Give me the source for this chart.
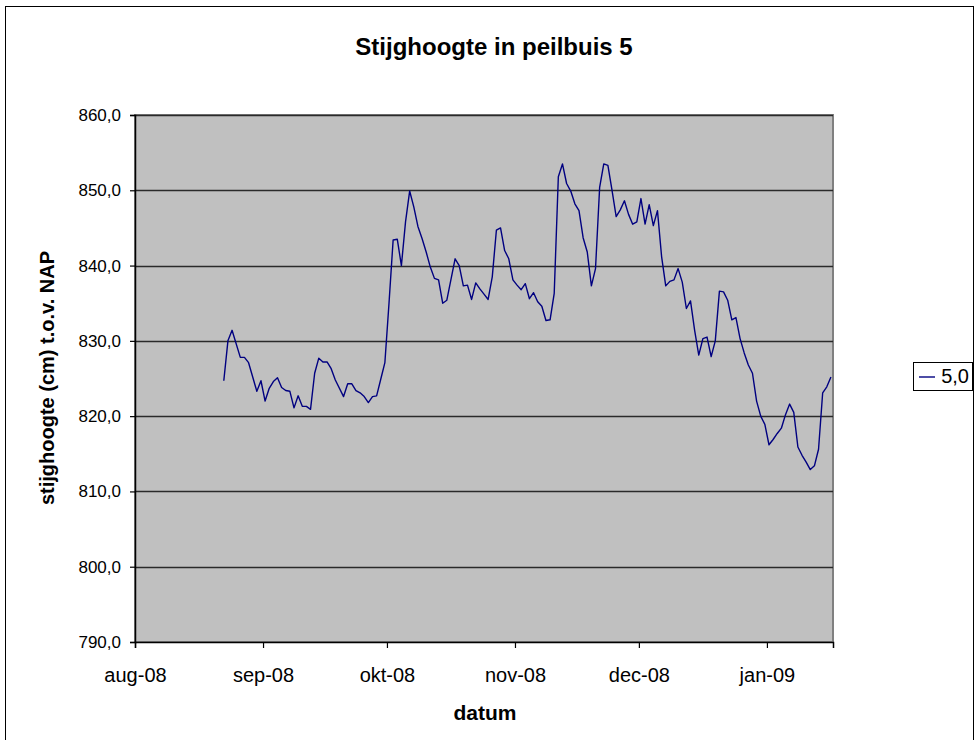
<!DOCTYPE html>
<html>
<head>
<meta charset="utf-8">
<script src="https://cdn.jsdelivr.net/npm/d3@7"></script>
<style>
  body { margin: 0; background: #fff; }
  svg { display: block; font-family: Arial, "Liberation Sans", sans-serif; }
</style>
</head>
<body>
<div></div>
<script>
// measured dates (daily, a few days missing) and level in cm above NAP
var dates = [
  "2008-08-22","2008-08-23","2008-08-24","2008-08-26","2008-08-27","2008-08-28","2008-08-29","2008-08-30","2008-08-31",
  "2008-09-01","2008-09-02","2008-09-03","2008-09-04","2008-09-05","2008-09-06","2008-09-07","2008-09-08","2008-09-09",
  "2008-09-10","2008-09-11","2008-09-12","2008-09-13","2008-09-14","2008-09-15","2008-09-16","2008-09-17","2008-09-18",
  "2008-09-20","2008-09-21","2008-09-22","2008-09-23","2008-09-24","2008-09-25","2008-09-26","2008-09-27","2008-09-28",
  "2008-09-29","2008-09-30",
  "2008-10-01","2008-10-02","2008-10-03","2008-10-04","2008-10-05","2008-10-06","2008-10-07","2008-10-08","2008-10-09",
  "2008-10-10","2008-10-11","2008-10-12","2008-10-13","2008-10-14","2008-10-15",
  "2008-10-17","2008-10-18","2008-10-19","2008-10-20","2008-10-21","2008-10-22","2008-10-23","2008-10-24","2008-10-25",
  "2008-10-26","2008-10-27","2008-10-28","2008-10-29","2008-10-30","2008-10-31",
  "2008-11-01","2008-11-02","2008-11-03","2008-11-04","2008-11-05","2008-11-06","2008-11-07","2008-11-08","2008-11-09",
  "2008-11-10","2008-11-11","2008-11-12","2008-11-13","2008-11-14","2008-11-15","2008-11-16","2008-11-17","2008-11-18",
  "2008-11-19","2008-11-20","2008-11-21","2008-11-22","2008-11-23","2008-11-24","2008-11-25","2008-11-26","2008-11-27",
  "2008-11-28","2008-11-29","2008-11-30",
  "2008-12-01","2008-12-02","2008-12-03","2008-12-04","2008-12-05","2008-12-06","2008-12-07","2008-12-08","2008-12-09",
  "2008-12-10","2008-12-11","2008-12-12","2008-12-13","2008-12-14","2008-12-15","2008-12-16","2008-12-17","2008-12-18",
  "2008-12-19","2008-12-20","2008-12-21","2008-12-22","2008-12-23","2008-12-24","2008-12-25","2008-12-26","2008-12-27",
  "2008-12-28","2008-12-29","2008-12-30","2008-12-31",
  "2009-01-01","2009-01-02","2009-01-03","2009-01-04","2009-01-05","2009-01-06","2009-01-07","2009-01-08","2009-01-09",
  "2009-01-10","2009-01-11","2009-01-12","2009-01-13","2009-01-14","2009-01-15","2009-01-16"
];
var levels = [
  824.7, 830.0, 831.4, 827.8, 827.8, 827.1, 825.2, 823.3, 824.7,
  822.0, 823.7, 824.6, 825.1, 823.8, 823.4, 823.3, 821.1, 822.7,
  821.3, 821.3, 820.9, 825.7, 827.7, 827.2, 827.2, 826.3, 824.8,
  822.6, 824.3, 824.3, 823.4, 823.1, 822.6, 821.8, 822.6, 822.7,
  824.9, 827.1,
  835.0, 843.4, 843.5, 840.0, 845.8, 849.9, 847.8, 845.2, 843.6,
  841.8, 839.8, 838.3, 838.1, 835.0, 835.4,
  840.9, 840.0, 837.3, 837.4, 835.5, 837.7, 836.9, 836.2, 835.5,
  838.5, 844.7, 845.0, 842.0, 840.9, 838.1,
  837.4, 836.8, 837.6, 835.6, 836.4, 835.2, 834.6, 832.7, 832.8,
  836.3, 851.8, 853.5, 850.9, 849.9, 848.2, 847.3, 843.7, 841.8,
  837.3, 839.6, 850.4, 853.5, 853.3, 850.0, 846.5, 847.4, 848.6,
  846.8, 845.5, 845.8,
  848.9, 845.5, 848.1, 845.3, 847.3, 841.2, 837.3, 837.9, 838.1,
  839.6, 837.8, 834.3, 835.3, 831.4, 828.1, 830.3, 830.5, 827.9,
  830.0, 836.6, 836.5, 835.4, 832.8, 833.1, 830.3, 828.4, 826.8,
  825.7, 822.0, 820.0, 818.9,
  816.2, 816.9, 817.7, 818.4, 820.2, 821.6, 820.5, 815.9, 814.8,
  813.9, 812.9, 813.4, 815.6, 823.1, 823.9, 825.2
];
var monthTicks = ["2008-08-01","2008-09-01","2008-10-01","2008-11-01","2008-12-01","2009-01-01"];
var monthLabels = ["aug-08","sep-08","okt-08","nov-08","dec-08","jan-09"];
var yTicks = [790, 800, 810, 820, 830, 840, 850, 860];
var seriesName = "5,0";

var parseDate = d3.utcParse("%Y-%m-%d");
var halfDay = 12 * 3600 * 1000;

var data = dates.map(function(d, i) {
  return { date: parseDate(d), level: levels[i] };
});

var width = 975;
var height = 740;
var plot = { left: 135, top: 115, right: 833, bottom: 642 };

var svg = d3
  .select("body")
  .select("div")
  .append("svg")
  .attr("width", width)
  .attr("height", height);

// chart frame
svg
  .append("rect")
  .attr("x", 5.5)
  .attr("y", 6.5)
  .attr("width", 968)
  .attr("height", 760)
  .attr("fill", "#fff")
  .attr("stroke", "#000")
  .attr("stroke-width", 1);

var xScale = d3
  .scaleUtc()
  .domain([parseDate("2008-08-01"), parseDate("2009-01-17")])
  .range([plot.left, plot.right]);

var yScale = d3
  .scaleLinear()
  .domain([790, 860])
  .range([plot.bottom, plot.top]);

// plot area
svg
  .append("rect")
  .attr("x", plot.left)
  .attr("y", plot.top)
  .attr("width", plot.right - plot.left)
  .attr("height", plot.bottom - plot.top)
  .attr("fill", "#c0c0c0")
  .attr("stroke", "#808080")
  .attr("stroke-width", 2);

// gridlines
svg
  .append("g")
  .selectAll("line")
  .data(yTicks.slice(1))
  .enter()
  .append("line")
  .attr("x1", plot.left)
  .attr("x2", plot.right)
  .attr("y1", function(d) { return Math.round(yScale(d)) + 0.5; })
  .attr("y2", function(d) { return Math.round(yScale(d)) + 0.5; })
  .attr("stroke", "#2a2a2a")
  .attr("stroke-width", 1.3);

var yAxis = d3
  .axisLeft(yScale)
  .tickValues(yTicks)
  .tickSize(5)
  .tickPadding(9)
  .tickFormat(function(d) { return d3.format(".1f")(d).replace(".", ","); });

var gy = svg
  .append("g")
  .attr("class", "y axis")
  .attr("transform", "translate(" + plot.left + ",0)")
  .call(yAxis);

var xAxis = d3
  .axisBottom(xScale)
  .tickValues(monthTicks.map(parseDate))
  .tickSize(6)
  .tickPadding(20)
  .tickFormat(function(d, i) { return monthLabels[i]; });

var gx = svg
  .append("g")
  .attr("class", "x axis")
  .attr("transform", "translate(0," + plot.bottom + ")")
  .call(xAxis);

[gx, gy].forEach(function(g) {
  g.select(".domain").attr("stroke", "#000").attr("stroke-width", 1.5);
  g.selectAll(".tick line").attr("stroke", "#000").attr("stroke-width", 1.2);
  g.selectAll(".tick text")
    .attr("fill", "#000")
    .style("font-family", "Arial, 'Liberation Sans', sans-serif");
});
gy.selectAll(".tick text").style("font-size", "17px");
gx.selectAll(".tick text").style("font-size", "20px");

// series line
var line = d3
  .line()
  .x(function(d) { return xScale(new Date(d.date.getTime() + halfDay)); })
  .y(function(d) { return yScale(d.level); });

svg
  .append("path")
  .datum(data)
  .attr("d", line)
  .attr("fill", "none")
  .attr("stroke", "#000080")
  .attr("stroke-width", 1.4)
  .attr("stroke-linejoin", "round");

// titles
svg
  .append("text")
  .attr("x", 494)
  .attr("y", 55)
  .attr("text-anchor", "middle")
  .style("font-size", "24px")
  .style("font-weight", "bold")
  .text("Stijghoogte in peilbuis 5");

svg
  .append("text")
  .attr("x", 485)
  .attr("y", 720)
  .attr("text-anchor", "middle")
  .style("font-size", "21px")
  .style("font-weight", "bold")
  .text("datum");

svg
  .append("text")
  .attr("transform", "translate(54,378) rotate(-90)")
  .attr("text-anchor", "middle")
  .style("font-size", "20px")
  .style("font-weight", "bold")
  .text("stijghoogte (cm) t.o.v. NAP");

// legend
var legend = svg.append("g").attr("transform", "translate(913,362)");
legend
  .append("rect")
  .attr("x", 0.5)
  .attr("y", 0.5)
  .attr("width", 59)
  .attr("height", 28)
  .attr("fill", "#fff")
  .attr("stroke", "#000");
legend
  .append("line")
  .attr("x1", 6)
  .attr("x2", 22)
  .attr("y1", 15)
  .attr("y2", 15)
  .attr("stroke", "#000080")
  .attr("stroke-width", 1.4);
legend
  .append("text")
  .attr("x", 56)
  .attr("y", 21)
  .attr("text-anchor", "end")
  .style("font-size", "20px")
  .text(seriesName);
</script>
</body>
</html>
